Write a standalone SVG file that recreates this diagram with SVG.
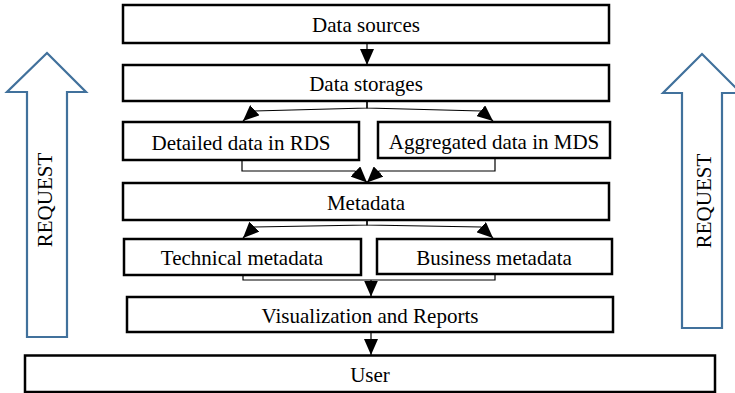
<svg xmlns="http://www.w3.org/2000/svg" width="735" height="393" viewBox="0 0 735 393">
<style>
.box{fill:#fff;stroke:#000;stroke-width:2.5}
.t{font-family:'Liberation Serif','Times New Roman','DejaVu Serif',serif;font-size:21px;fill:#000;text-anchor:middle}
.c{fill:none;stroke:#000;stroke-width:1.2}
.req{fill:#fff;stroke:#41719C;stroke-width:2.2;stroke-linejoin:miter}
</style>
<defs>
<marker id="ah" markerUnits="userSpaceOnUse" markerWidth="16" markerHeight="14" refX="16" refY="7" orient="auto">
<path d="M0,0 L16,7 L0,14 z" fill="#000"/>
</marker>
</defs>
<rect width="735" height="393" fill="#fff"/>
<g id="request-left">
<polygon class="req" points="47,53 86,92 67,92 67,337 27,337 27,92 7,92"/>
<text class="t" font-family="Liberation Serif, serif" transform="translate(52,200) rotate(-90)">REQUEST</text>
</g>
<g id="request-right">
<polygon class="req" points="702,54 741,93 722,93 722,328 682,328 682,93 663,93"/>
<text class="t" font-family="Liberation Serif, serif" transform="translate(711,201) rotate(-90)">REQUEST</text>
</g>
<g id="data-sources">
<rect class="box" x="123" y="5" width="486" height="38"/>
<text class="t" x="366" y="32">Data sources</text>
</g>
<g id="data-storages">
<rect class="box" x="123" y="65" width="486" height="36"/>
<text class="t" x="366" y="91">Data storages</text>
</g>
<g id="detailed">
<rect class="box" x="123" y="122" width="236" height="38"/>
<text class="t" x="241" y="150">Detailed data in RDS</text>
</g>
<g id="aggregated">
<rect class="box" x="378" y="122" width="232" height="36"/>
<text class="t" x="494" y="149">Aggregated data in MDS</text>
</g>
<g id="metadata">
<rect class="box" x="123" y="183" width="486" height="37"/>
<text class="t" x="366" y="210">Metadata</text>
</g>
<g id="technical">
<rect class="box" x="124" y="239" width="237" height="36"/>
<text class="t" x="242" y="265">Technical metadata</text>
</g>
<g id="business">
<rect class="box" x="377" y="239" width="235" height="35"/>
<text class="t" x="494" y="265">Business metadata</text>
</g>
<g id="visualization">
<rect class="box" x="127" y="297" width="486" height="35"/>
<text class="t" x="370" y="323">Visualization and Reports</text>
</g>
<g id="user">
<rect class="box" x="25" y="355.5" width="690" height="36.5"/>
<text class="t" x="370" y="382">User</text>
</g>
<g id="connectors">
<path class="c" d="M367,43 V65" marker-end="url(#ah)"/>
<path class="c" d="M367,101 V108 L254,111 L243,121" marker-end="url(#ah)"/>
<path class="c" d="M367,101 V108 L481,111 L493,121" marker-end="url(#ah)"/>
<path class="c" d="M242,160 V171 H355 L367,182.5" marker-end="url(#ah)"/>
<path class="c" d="M495,158 V171 H379 L367,182.5" marker-end="url(#ah)"/>
<path class="c" d="M367,220 V225 L254,227 L243,238" marker-end="url(#ah)"/>
<path class="c" d="M367,220 V225 L481,227 L493,238" marker-end="url(#ah)"/>
<path class="c" d="M243,275 V280 H495 V274"/>
<path class="c" d="M371,280 V296.5" marker-end="url(#ah)"/>
<path class="c" d="M371,332 V355" marker-end="url(#ah)"/>
</g>
</svg>
